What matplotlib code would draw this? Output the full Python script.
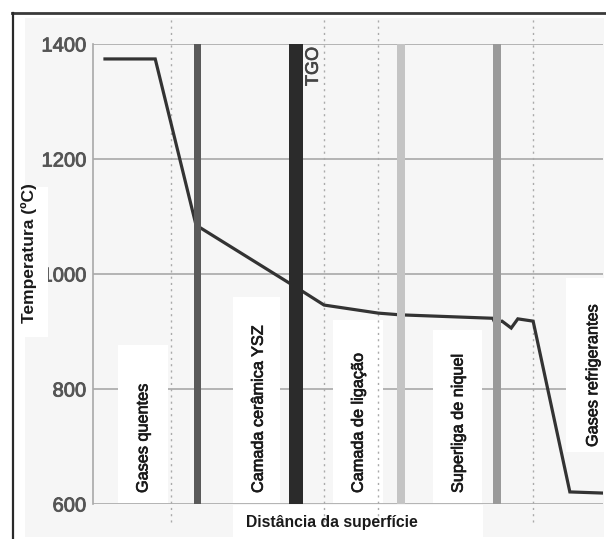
import matplotlib
matplotlib.use("Agg")
import matplotlib.pyplot as plt
import matplotlib.patheffects as pe
from matplotlib.patches import Rectangle
from matplotlib.lines import Line2D

plt.rcParams['font.family'] = ['Liberation Sans', 'DejaVu Sans']

# Temperature profile across the coating (distance in arbitrary units)
distance = [2.35, 12.2, 20.2, 39.8, 45.3, 55.9, 60.2, 78.4, 78.8, 80.2, 82.0, 83.3, 86.3, 93.5, 100.0]
temperature = [1374, 1374, 1085, 977, 946, 932, 929, 923, 915, 918, 906, 922, 918, 621, 619]

# Interfaces between layers
interfaces = [20.3, 39.8, 60.4, 79.2]
interface_colors = ['#5a5a5a', '#2b2b2b', '#c4c4c4', '#9a9a9a']
interface_widths_px = [7, 14, 8, 8]

# Dotted reference positions
dotted = [15.3, 45.3, 55.9, 86.3]

# Layer names and the x position of their labels
layers = ['Gases quentes', 'Camada cerâmica YSZ', 'Camada de ligação',
          'Superliga de niquel', 'Gases refrigerantes']
layer_x = [9.8, 32.4, 52.0, 71.6, 98.0]

yticks = [600, 800, 1000, 1200, 1400]

W, H = 606, 539
fig = plt.figure(figsize=(W / 100, H / 100), dpi=100)
fig.patch.set_facecolor('white')


def fx(px):
    return px / W


def fy(py):
    return 1 - py / H


def heavy(color, w=0.5):
    return [pe.withStroke(linewidth=w, foreground=color)]


# light grey page background
fig.patches.append(Rectangle((fx(25), fy(537)), fx(604) - fx(25), fy(18) - fy(537),
                             transform=fig.transFigure, facecolor='#f6f6f6',
                             edgecolor='none', zorder=-2))
# white strip behind the x-axis label
fig.patches.append(Rectangle((fx(233), fy(539)), fx(483) - fx(233), fy(505) - fy(539),
                             transform=fig.transFigure, facecolor='white',
                             edgecolor='none', zorder=-1))

ax = fig.add_axes([fx(93), fy(504), fx(603) - fx(93), fy(44) - fy(504)])
ax.set_facecolor('none')
ax.set_xlim(0, 100)
ax.set_ylim(600, 1400)
for s in ['top', 'right', 'bottom']:
    ax.spines[s].set_visible(False)
ax.spines['left'].set_color('#a8a8a8')
ax.spines['left'].set_linewidth(1.2)
ax.set_xticks([])
ax.set_yticks(yticks)
ax.set_yticklabels([str(v) for v in yticks], fontsize=14.5, color='#555555')
for t in ax.get_yticklabels():
    t.set_path_effects(heavy('#555555', 0.6))
ax.tick_params(axis='y', length=0, pad=5)
for v in yticks:
    ax.axhline(v, color='#a8a8a8', lw=1.2, zorder=1)

px_per_unit = (603 - 93) / 100.0
T_per_px = 800 / 460.0

# white label boxes
boxes = [
    (118, 168, 345, 503),
    (233, 280, 297, 503),
    (333, 383, 320, 503),
    (433, 482, 330, 503),
    (566, 606, 278, 452),
]
for (x0, x1, y0, y1) in boxes:
    ax.add_patch(Rectangle(((x0 - 93) / px_per_unit, 1400 - (y1 - 44) * T_per_px),
                           (x1 - x0) / px_per_unit, (y1 - y0) * T_per_px,
                           facecolor='white', edgecolor='none', zorder=2, clip_on=False))

for xv in dotted:
    ax.axvline(xv, ymin=-0.039, ymax=1.057, color='#aaaaaa', lw=1.0,
               ls=(0, (1.5, 3)), zorder=3, clip_on=False)

ax.plot(distance, temperature, color='#333333', lw=2.3, zorder=4,
        solid_joinstyle='miter')

for xv, c, w in zip(interfaces, interface_colors, interface_widths_px):
    ax.axvline(xv, color=c, lw=w * 0.72, zorder=5)

label_tops = [493, 493, 493, 493, 447]
for name, xv, yb in zip(layers, layer_x, label_tops):
    ax.text(xv, 1400 - (yb - 44) * T_per_px, name, rotation=90, ha='center', va='bottom',
            fontsize=11.7, color='#1a1a1a', zorder=6, clip_on=False,
            path_effects=heavy('#1a1a1a', 0.5))

ax.text(interfaces[1] + 3.4, 1400 - (86 - 44) * T_per_px, 'TGO', rotation=90,
        ha='center', va='bottom', fontsize=13, color='#444444', zorder=6,
        path_effects=heavy('#444444', 0.5))

fig.text(fx(332), fy(522), 'Distância da superfície', ha='center', va='center',
         fontsize=11.3, fontweight='bold', color='#1a1a1a')

# outer frame
fig.lines.append(Line2D([fx(12), fx(606)], [fy(13), fy(13)], transform=fig.transFigure,
                        color='#3a3a3a', lw=2.0))
fig.lines.append(Line2D([fx(13), fx(13)], [fy(13), fy(539)], transform=fig.transFigure,
                        color='#2a2a2a', lw=1.6))

# y-axis label on its white strip
fig.patches.append(Rectangle((fx(15), fy(337)), fx(48) - fx(15), fy(187) - fy(337),
                             transform=fig.transFigure, facecolor='white',
                             edgecolor='none', zorder=5))
fig.text(fx(29), fy(253), 'Temperatura (ºC)', rotation=90, ha='center', va='center',
         fontsize=12.5, fontweight='bold', color='#1a1a1a', zorder=6)

fig.savefig('out.png', dpi=100, facecolor='white')
